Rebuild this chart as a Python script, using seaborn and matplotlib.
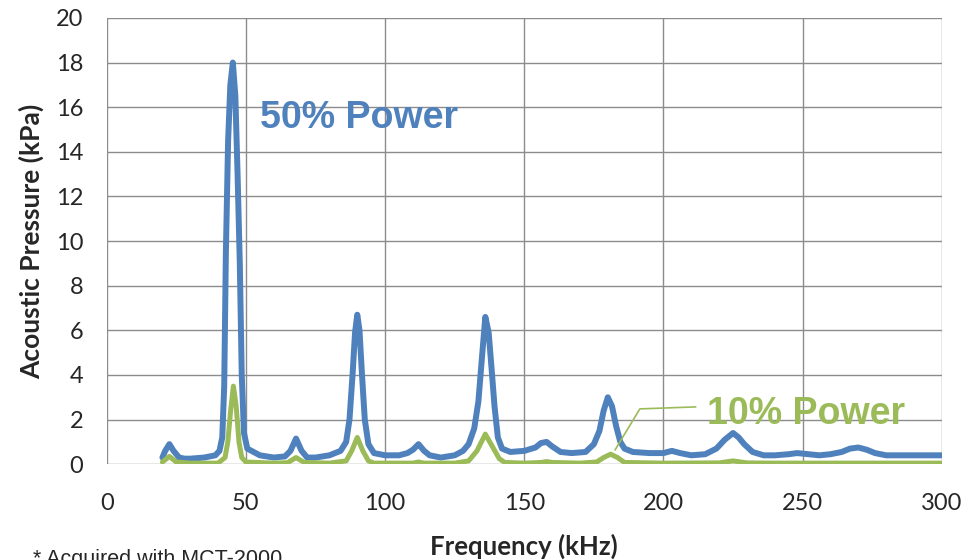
import numpy as np
import pandas as pd
import seaborn as sns
import matplotlib.pyplot as plt

# Datos (frecuencia en kHz, presion en kPa)
freq_50 = [20, 21, 22.5, 24, 26, 28, 30, 35, 39, 40.5, 41.5, 42.2, 42.8, 43.6, 44.4, 45.3, 46.2, 47, 47.8, 48.5, 49.3, 50.5,
           55, 60, 64, 66, 68, 70, 72, 75, 80, 84, 86, 87.2, 88.3, 89.2, 90, 90.8, 91.7, 92.7, 94, 96,
           100, 105, 108, 110, 112, 114, 116, 120, 125, 128, 130, 132, 133.5, 134.8, 136, 137.2, 138.3, 139.3, 140.5, 142, 145,
           150, 154, 156, 158, 160, 163, 167, 172, 175, 177, 178.5, 180, 181.5, 183, 184.5, 186, 189, 195,
           200, 203, 206, 210, 215, 219, 222, 225, 227, 229, 232, 236, 240, 245, 248, 252, 256, 260, 264, 267,
           270, 273, 276, 280, 290, 300]
pres_50 = [0.3, 0.6, 0.9, 0.6, 0.3, 0.25, 0.25, 0.3, 0.4, 0.6, 1.2, 3.5, 9.5, 14.5, 17, 18, 16.5, 13, 9, 4, 1.4, 0.7,
           0.4, 0.3, 0.35, 0.6, 1.15, 0.6, 0.3, 0.3, 0.4, 0.6, 1.0, 2.0, 4.0, 5.9, 6.7, 6.0, 4.0, 2.0, 0.9, 0.5,
           0.4, 0.4, 0.5, 0.65, 0.9, 0.6, 0.4, 0.3, 0.4, 0.6, 0.9, 1.6, 2.8, 4.8, 6.6, 5.9, 4.2, 2.6, 1.2, 0.7, 0.55,
           0.6, 0.75, 0.95, 1.0, 0.8, 0.55, 0.5, 0.55, 0.9, 1.5, 2.4, 3.0, 2.6, 1.7, 1.0, 0.7, 0.55, 0.5,
           0.5, 0.6, 0.5, 0.4, 0.45, 0.7, 1.1, 1.4, 1.2, 0.9, 0.55, 0.4, 0.4, 0.45, 0.5, 0.45, 0.4, 0.45, 0.55, 0.7,
           0.75, 0.65, 0.5, 0.4, 0.4, 0.4]

freq_10 = [20, 22.5, 25, 30, 40, 42.5, 43.5, 44.5, 45.5, 46.5, 47.5, 48.5, 50,
           60, 65, 68, 71, 80, 86, 88, 90, 92, 94, 96, 110, 112, 114,
           125, 130, 133, 136, 138.5, 141, 143, 150, 156, 158, 160, 170,
           176, 178.5, 181, 183.5, 186, 200, 220, 225, 230, 240, 300]
pres_10 = [0.1, 0.35, 0.1, 0.05, 0.05, 0.3, 1.0, 2.4, 3.5, 2.6, 1.0, 0.3, 0.1,
           0.05, 0.07, 0.3, 0.08, 0.05, 0.15, 0.6, 1.2, 0.6, 0.15, 0.05, 0.05, 0.1, 0.05,
           0.05, 0.15, 0.6, 1.35, 0.8, 0.25, 0.08, 0.05, 0.08, 0.12, 0.08, 0.05,
           0.1, 0.3, 0.45, 0.3, 0.08, 0.05, 0.06, 0.15, 0.06, 0.05, 0.05]

x_ticks = [0, 50, 100, 150, 200, 250, 300]
y_ticks = [0, 2, 4, 6, 8, 10, 12, 14, 16, 18, 20]

azul = "#4F81BD"
verde = "#9BBB59"
gris = "#8C8C8C"

sns.set_style("white")
plt.rcParams['font.family'] = ['Lato', 'DejaVu Sans']

df50 = pd.DataFrame({"f": freq_50, "p": pres_50})
df10 = pd.DataFrame({"f": freq_10, "p": pres_10})

fig = plt.figure(figsize=(9.73, 5.6), dpi=100)
ax = fig.add_axes([0.1097, 0.171, 0.8583, 0.797])

sns.lineplot(data=df50, x="f", y="p", color=azul, linewidth=4.3, ax=ax, zorder=3)
sns.lineplot(data=df10, x="f", y="p", color=verde, linewidth=3.6, ax=ax, zorder=4)

ax.set_xlim(0, 300)
ax.set_ylim(0, 20)
ax.set_xticks(x_ticks)
ax.set_yticks(y_ticks)
ax.grid(True, color=gris, linewidth=1.0)
ax.set_axisbelow(True)
for s in ax.spines.values():
    s.set_visible(False)
ax.tick_params(axis="both", length=7, width=1.0, color=gris, labelsize=17, labelcolor="#262626")
ax.tick_params(axis="x", pad=14)
ax.tick_params(axis="y", pad=10)

ax.set_xlabel("Frequency (kHz)", fontsize=18.5, fontweight="bold", labelpad=14)
ax.set_ylabel("Acoustic Pressure (kPa)", fontsize=19, fontweight="bold", labelpad=8)

# Etiquetas de las series
ax.text(55, 15.5, "50% Power", color=azul, fontsize=27, fontweight="bold",
        family="Liberation Sans", ha="left", va="center")
ax.text(215.5, 2.25, "10% Power", color=verde, fontsize=27, fontweight="bold",
        family="Liberation Sans", ha="left", va="center")
ax.plot([182.6, 191.5, 211.6], [0.64, 2.48, 2.57], color=verde, linewidth=1.2, zorder=5)

fig.text(0.034, 0.02, "* Acquired with MCT-2000", fontsize=15.5, family="Liberation Sans",
         ha="left", va="top")

plt.savefig("out.png", dpi=100)
